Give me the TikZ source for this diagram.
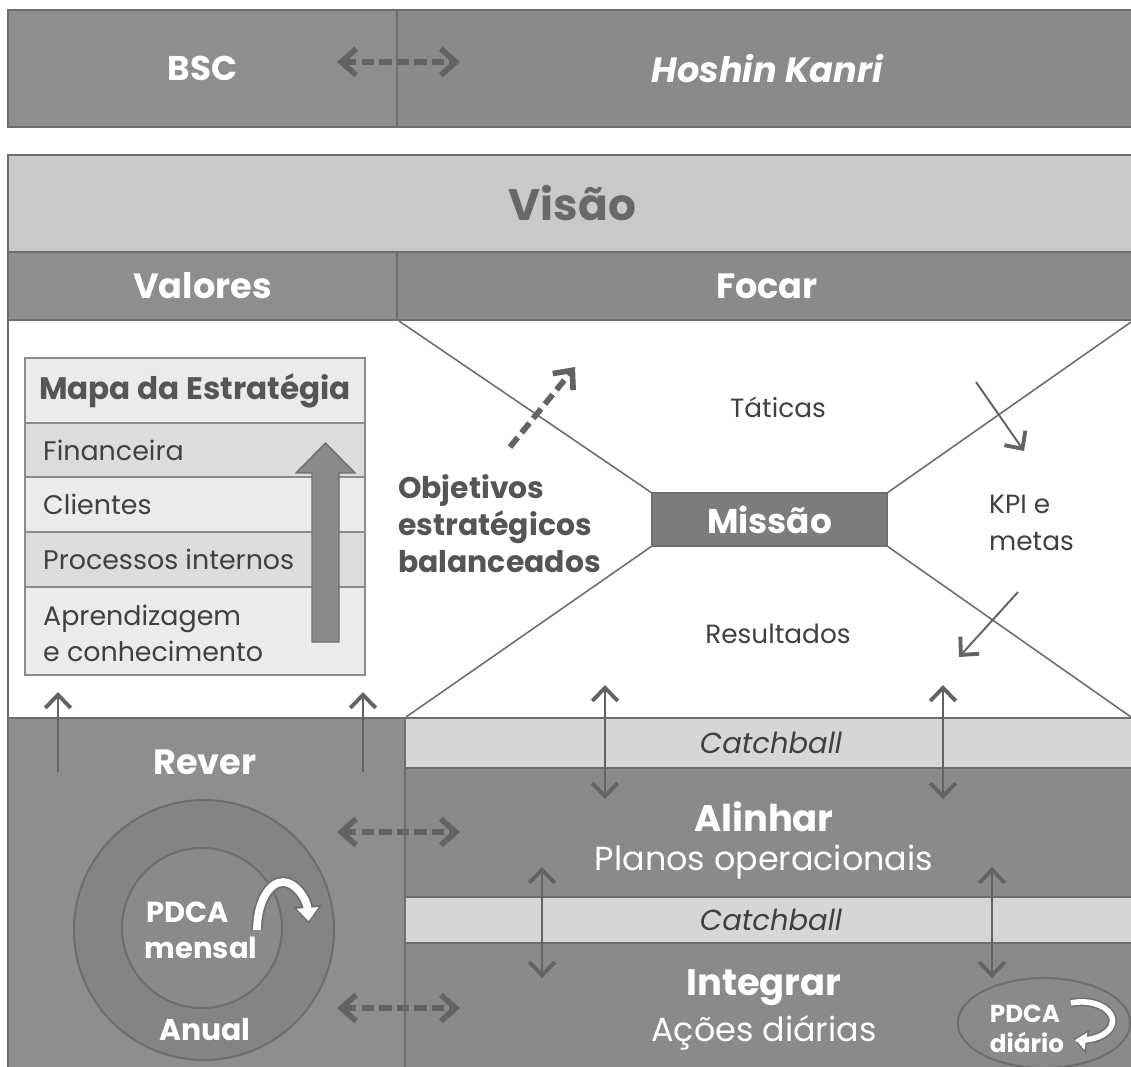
\documentclass[tikz,border=0pt]{standalone}
\usepackage{fontspec}
\setmainfont{Poppins}
\usetikzlibrary{arrows.meta,shapes.geometric}

\definecolor{bandgray}{HTML}{8E8E8E}
\definecolor{bandgrayb}{HTML}{8A8A8A}
\definecolor{edgegray}{HTML}{6E6E6E}
\definecolor{visaogray}{HTML}{C9C9C9}
\definecolor{visaoink}{HTML}{686868}
\definecolor{catchgray}{HTML}{D6D6D6}
\definecolor{inkgray}{HTML}{404040}
\definecolor{boldink}{HTML}{555555}
\definecolor{arrowgray}{HTML}{636363}
\definecolor{rowdark}{HTML}{DCDCDC}
\definecolor{rowlight}{HTML}{EBEBEB}
\definecolor{ringgray}{HTML}{848484}
\definecolor{blockgray}{HTML}{8A8A8A}
\definecolor{missaogray}{HTML}{7C7C7C}

\newcommand{\fs}[1]{\fontsize{#1}{1.2\dimexpr#1pt\relax}\selectfont}

\tikzset{
  thinbarb/.tip={Straight Barb[length=7.5pt, width=14.5pt, line width=2.2pt]},
  thickbarb/.tip={Straight Barb[length=8.5pt, width=15pt, line width=3.2pt]}
}

\begin{document}
\begin{tikzpicture}[x=0.02cm, y=-0.02cm,
  panel/.style={draw=edgegray, line width=1.2pt, inner sep=0pt, outer sep=0pt, anchor=north west},
  wh/.style 2 args={minimum width=#1*0.02cm, minimum height=#2*0.02cm},
  row/.style={draw=edgegray!80, line width=0.8pt, inner sep=0pt, outer sep=0pt, anchor=north west, minimum width=6.8cm},
  whitebold/.style={text=white, font=\bfseries\fs{#1}},
  ink/.style={text=inkgray, font=\fs{#1}},
  thinline/.style={draw=edgegray, line width=0.9pt},
  thinarrow/.style={draw=arrowgray, line width=1.1pt, -{thinbarb}},
  thinboth/.style={draw=arrowgray, line width=1.1pt, {thinbarb}-{thinbarb}},
  dashboth/.style={draw=arrowgray, line width=3.3pt, dash pattern=on 7pt off 3pt, {thickbarb}-{thickbarb}},
  dashone/.style={draw=arrowgray, line width=3.3pt, dash pattern=on 7pt off 3.5pt, -{thickbarb}}
]
\useasboundingbox[fill=white] (0,0) rectangle (1131,1066);

% ---- header bar: BSC / Hoshin Kanri
\node[panel, wh={389}{117}, fill=bandgray, whitebold=19.5] (bsc) at (8,10) {BSC};
\node[panel, wh={740}{117}, fill=bandgrayb, text=white, font=\bfseries\itshape\fs{20}] (hk) at (397,10) {Hoshin Kanri};
\coordinate (hdl) at (337,62);
\coordinate (hdr) at (460,62);
\draw[dashboth] (hdl) -- (hdr);

% ---- vision band and the two headings
\node[panel, wh={1129}{97}, fill=visaogray, text=visaoink, font=\bfseries\fs{25}] (visao) at (8,155) {Visão};
\node[panel, wh={389}{68}, fill=bandgray, whitebold=20] (valores) at (8,252) {Valores};
\node[panel, wh={740}{68}, fill=bandgrayb, whitebold=20] (focar) at (397,252) {Focar};

% ---- white field
\node[panel, wh={1129}{398}, fill=white] (campo) at (8,320) {};

% ---- strategy map table
\node[row, minimum height=1.3cm, fill=rowlight, text=boldink, font=\bfseries\fs{17.7}] (mapa) at (25,358) {Mapa da Estratégia};
\node[row, minimum height=1.08cm, fill=rowdark] (fin) at (25,423) {};
\node[row, minimum height=1.1cm, fill=rowlight] (cli) at (25,477) {};
\node[row, minimum height=1.1cm, fill=rowdark] (proc) at (25,532) {};
\node[row, minimum height=1.76cm, fill=rowlight] (apr) at (25,587) {};
\node[ink=15.3, anchor=west] (tfin) at ([xshift=0.24cm]fin.west) {Financeira};
\node[ink=15.3, anchor=west] (tcli) at ([xshift=0.24cm]cli.west) {Clientes};
\node[ink=15.3, anchor=west] (tproc) at ([xshift=0.24cm]proc.west) {Processos internos};
\node[ink=15.3, anchor=west, align=left, font=\fontsize{15.3}{20.5}\selectfont] (tapr) at ([xshift=0.24cm, yshift=-0.05cm]apr.west) {Aprendizagem\\e conhecimento};
\draw[fill=blockgray, draw=edgegray, line width=0.8pt]
  (312,642) -- (312,473) -- (296,473) -- (325.5,443) -- (355,473) -- (339,473) -- (339,642) -- cycle;

% ---- mission and the four diagonals
\node[panel, anchor=center, wh={235}{53}, fill=missaogray, whitebold=19.5] (missao) at (769.5,519.5) {Missão};
\coordinate (ctl) at (399,321);
\coordinate (ctr) at (1131,322);
\coordinate (cbl) at (406,717);
\coordinate (cbr) at (1131,717);
\draw[thinline] (missao.north west) -- (ctl);
\draw[thinline] (missao.north east) -- (ctr);
\draw[thinline] (missao.south west) -- (cbl);
\draw[thinline] (missao.south east) -- (cbr);

\node[ink=15] (taticas) at (778,407) {Táticas};
\node[ink=15] (result) at (778,634) {Resultados};
\node[ink=15, anchor=west, align=left, font=\fontsize{15}{21}\selectfont] (kpi) at (983,523) {KPI e\\metas};
\node[anchor=west, align=left, text=boldink, font=\bfseries\fontsize{17}{21}\selectfont] (obj) at (392,524)
  {Objetivos\\estratégicos\\balanceados};

\coordinate (oa) at (510,447);
\coordinate (ob) at (575,367);
\draw[dashone] (oa) -- (ob);
\coordinate (ka) at (976,382);
\coordinate (kb) at (1024,451);
\draw[thinarrow] (ka) -- (kb);
\coordinate (ra) at (1018,592);
\coordinate (rb) at (959,657);
\draw[thinarrow] (ra) -- (rb);

% ---- lower part: review column and deployment bands
\node[panel, wh={397}{352}, fill=bandgray] (rever) at (8,718) {};
\node[panel, wh={732}{50}, fill=catchgray, text=inkgray, font=\itshape\fs{16.5}] (catch1) at (405,718) {Catchball};
\node[panel, wh={732}{129}, fill=bandgrayb] (alinhar) at (405,768) {};
\node[panel, wh={732}{46}, fill=catchgray, text=inkgray, font=\itshape\fs{16.5}] (catch2) at (405,897) {Catchball};
\node[panel, wh={732}{127}, fill=bandgrayb] (integrar) at (405,943) {};

\node[whitebold=20] (trever) at (205,762) {Rever};
\node[whitebold=21] (talin) at (764,817) {Alinhar};
\node[text=white, font=\fs{19}] (tplanos) at (764,862) {Planos operacionais};
\node[whitebold=21] (tinteg) at (764,988) {Integrar};
\node[text=white, font=\fs{19}] (tacoes) at (764,1033) {Ações diárias};

% review arrows up into the strategy map
\coordinate (u1a) at (58,772);
\coordinate (u1b) at (58,692);
\coordinate (u2a) at (363,772);
\coordinate (u2b) at (363,692);
\draw[thinarrow] (u1a) -- (u1b);
\draw[thinarrow] (u2a) -- (u2b);

% catchball exchange arrows
\coordinate (c1a) at (605,685);
\coordinate (c1b) at (605,799);
\coordinate (c2a) at (943,685);
\coordinate (c2b) at (943,799);
\coordinate (c3a) at (542,867);
\coordinate (c3b) at (542,978);
\coordinate (c4a) at (992,867);
\coordinate (c4b) at (992,978);
\draw[thinboth] (c1a) -- (c1b);
\draw[thinboth] (c2a) -- (c2b);
\draw[thinboth] (c3a) -- (c3b);
\draw[thinboth] (c4a) -- (c4b);

% review cycle rings
\node[circle, draw=edgegray, line width=1.2pt, fill=ringgray, minimum size=5.2cm, inner sep=0pt] (anel) at (204,930) {};
\node[circle, draw=edgegray, line width=1.2pt, fill=bandgray!97!black, minimum size=3.2cm, inner sep=0pt] (nucleo) at (202,928) {};
\node[whitebold=16.5] (tpdca) at (188,912) {PDCA};
\node[whitebold=16.5] (tmensal) at (201,948) {mensal};
\node[whitebold=17] (tanual) at (205,1030) {Anual};
\coordinate (pm) at (257,930);
\draw[draw=edgegray, line width=6.4pt, -{Triangle[length=10pt, width=16pt]}]
  (pm) arc[start angle=180, end angle=352, x radius=26, y radius=48];
\draw[draw=white, line width=4.4pt, shorten >=1.3pt, -{Triangle[length=7.5pt, width=12pt]}]
  (pm) arc[start angle=180, end angle=352, x radius=26, y radius=48];

% review <-> deployment
\coordinate (r1a) at (337,832);
\coordinate (r1b) at (460,832);
\coordinate (r2a) at (337,1008);
\coordinate (r2b) at (460,1008);
\draw[dashboth] (r1a) -- (r1b);
\draw[dashboth] (r2a) -- (r2b);

% daily cycle
\node[ellipse, draw=edgegray, line width=1.2pt, fill=bandgrayb, minimum width=3.45cm, minimum height=1.8cm, inner sep=0pt] (diario) at (1044,1023) {};
\node[whitebold=14] (tpdcad) at (1025,1014) {PDCA};
\node[whitebold=14] (tdiario) at (1027,1042) {diário};
\coordinate (pd) at (1071,1003);
\draw[draw=edgegray, line width=5pt, -{Triangle[length=8pt, width=13pt]}]
  (pd) arc[start angle=-110, end angle=105, x radius=31, y radius=19];
\draw[draw=white, line width=3.2pt, shorten >=1.1pt, -{Triangle[length=6pt, width=9.5pt]}]
  (pd) arc[start angle=-110, end angle=105, x radius=31, y radius=19];
\end{tikzpicture}
\end{document}
